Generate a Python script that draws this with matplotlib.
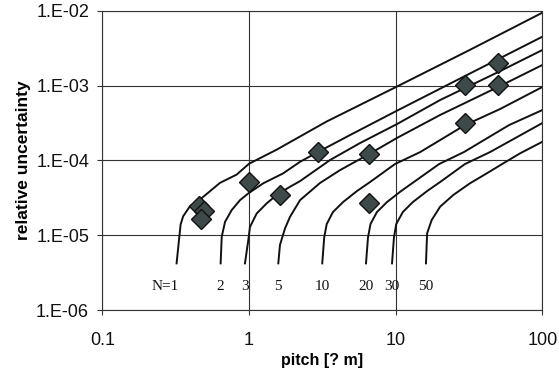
import matplotlib
matplotlib.use("Agg")
import matplotlib.pyplot as plt
from matplotlib.ticker import NullLocator

# ---- data ----
N_labels = ["N=1", "2", "3", "5", "10", "20", "30", "50"]

x_N1 = [0.321, 0.336, 0.342, 0.356, 0.396, 0.463, 0.634, 0.824, 1.0, 1.545, 3.39, 10.0, 32.0, 100]
y_N1 = [4.2e-6, 1.0e-5, 1.39e-5, 1.79e-5, 2.44e-5, 2.99e-5, 5.0e-5, 6.45e-5, 9.0e-5, 1.39e-4, 3.31e-4, 9.5e-4, 2.99e-3, 9.4e-3]

x_N2 = [0.641, 0.652, 0.687, 0.763, 0.869, 0.99, 1.25, 1.71, 2.23, 2.97, 4.89, 9.9, 29.7, 100]
y_N2 = [4.2e-6, 9.5e-6, 1.51e-5, 2.17e-5, 2.94e-5, 3.62e-5, 4.93e-5, 6.7e-5, 9.57e-5, 1.30e-4, 2.18e-4, 4.47e-4, 1.34e-3, 4.49e-3]

x_N3 = [0.939, 0.99, 1.016, 1.129, 1.32, 1.545, 1.905, 2.23, 3.57, 5.71, 10.2, 20.1, 49.9, 100]
y_N3 = [4.2e-6, 8.6e-6, 1.29e-5, 1.95e-5, 2.66e-5, 3.44e-5, 4.44e-5, 5.28e-5, 1.01e-4, 1.70e-4, 3.05e-4, 6.4e-4, 1.51e-3, 2.98e-3]

x_N5 = [1.585, 1.627, 1.761, 1.905, 2.23, 3.05, 4.18, 6.58, 10.2, 20.1, 49.9, 100]
y_N5 = [4.2e-6, 7.4e-6, 1.23e-5, 1.76e-5, 2.94e-5, 4.98e-5, 7.41e-5, 1.21e-4, 1.99e-4, 4.04e-4, 9.55e-4, 1.88e-3]

x_N10 = [3.16, 3.26, 3.39, 3.74, 4.38, 5.45, 6.69, 9.9, 14.7, 29.7, 51.5, 100]
y_N10 = [4.2e-6, 9.4e-6, 1.41e-5, 2.04e-5, 2.77e-5, 3.89e-5, 5.13e-5, 8.93e-5, 1.29e-4, 2.96e-4, 4.85e-4, 9.55e-4]

x_N20 = [6.28, 6.48, 6.74, 7.46, 8.73, 10.9, 13.3, 19.8, 29.2, 59.3, 100]
y_N20 = [4.2e-6, 9.3e-6, 1.41e-5, 2.04e-5, 2.77e-5, 3.89e-5, 5.13e-5, 8.93e-5, 1.29e-4, 2.96e-4, 4.7e-4]

x_N30 = [9.45, 9.74, 10.1, 11.2, 13.1, 16.4, 20.1, 29.7, 44.0, 100]
y_N30 = [4.2e-6, 9.3e-6, 1.41e-5, 2.04e-5, 2.77e-5, 3.89e-5, 5.13e-5, 8.93e-5, 1.29e-4, 3.15e-4]

x_N50 = [16.1, 16.4, 17.6, 20.1, 24.7, 32.1, 41.8, 54.2, 70.5, 100]
y_N50 = [4.2e-6, 1.06e-5, 1.59e-5, 2.40e-5, 3.44e-5, 4.93e-5, 6.70e-5, 9.12e-5, 1.24e-4, 1.77e-4]

meas_x = [0.458, 0.493, 0.469, 1.0, 1.63, 2.97, 6.58, 6.58, 29.6, 29.6, 50.0, 50.0]
meas_y = [2.49e-5, 2.09e-5, 1.65e-5, 5.15e-5, 3.49e-5, 1.28e-4, 1.23e-4, 2.7e-5, 1.02e-3, 3.13e-4, 2.02e-3, 1.02e-3]

x_ticks = [0.1, 1, 10, 100]
x_tick_labels = ["0.1", "1", "10", "100"]
y_ticks = [1e-6, 1e-5, 1e-4, 1e-3, 1e-2]
y_tick_labels = ["1.E-06", "1.E-05", "1.E-04", "1.E-03", "1.E-02"]
label_y = 2.05e-6

curves = [(x_N1, y_N1), (x_N2, y_N2), (x_N3, y_N3), (x_N5, y_N5),
          (x_N10, y_N10), (x_N20, y_N20), (x_N30, y_N30), (x_N50, y_N50)]

# ---- figure ----
plt.rcParams['font.family'] = ['Liberation Sans', 'DejaVu Sans']
fig = plt.figure(figsize=(5.59, 3.76), dpi=100)
ax = fig.add_axes([0.183, 0.1755, 0.7871, 0.796])
ax.set_xscale('log')
ax.set_yscale('log')
ax.set_xlim(0.1, 100)
ax.set_ylim(1e-6, 1e-2)

for (cx, cy) in curves:
    ax.plot(cx, cy, color='#111111', lw=1.4, solid_joinstyle='round', zorder=3)

ax.plot(meas_x, meas_y, linestyle='none', marker='D', markersize=10.5,
        markerfacecolor='#3e4949', markeredgecolor='#111111', markeredgewidth=1.0, zorder=4)

for i, (lab, (cx, cy)) in enumerate(zip(N_labels, curves)):
    ax.text(cx[0] * (1.03 if i == 0 else 1.0), label_y, lab,
            ha='right' if i == 0 else 'center', va='center',
            fontsize=11, family=['Liberation Serif', 'DejaVu Serif'], color='#111111')

ax.set_xticks(x_ticks)
ax.set_xticklabels(x_tick_labels)
ax.set_yticks(y_ticks)
ax.set_yticklabels(y_tick_labels)
ax.xaxis.set_minor_locator(NullLocator())
ax.yaxis.set_minor_locator(NullLocator())
ax.tick_params(axis='both', which='major', direction='out', length=3.5, width=0.8,
               color='#333333', labelsize=13, labelcolor='#111111')
ax.tick_params(axis='y', pad=6)
ax.tick_params(axis='x', pad=12)

ax.grid(True, which='major', color='#333333', lw=0.8)
for s in ax.spines.values():
    s.set_color('#333333')
    s.set_linewidth(0.8)

ax.set_xlabel("pitch [? m]", fontsize=11.5, fontweight='bold', labelpad=3)
ax.set_ylabel("relative uncertainty", fontsize=12.5, fontweight='bold', labelpad=4)

fig.savefig("out.png", dpi=100)
